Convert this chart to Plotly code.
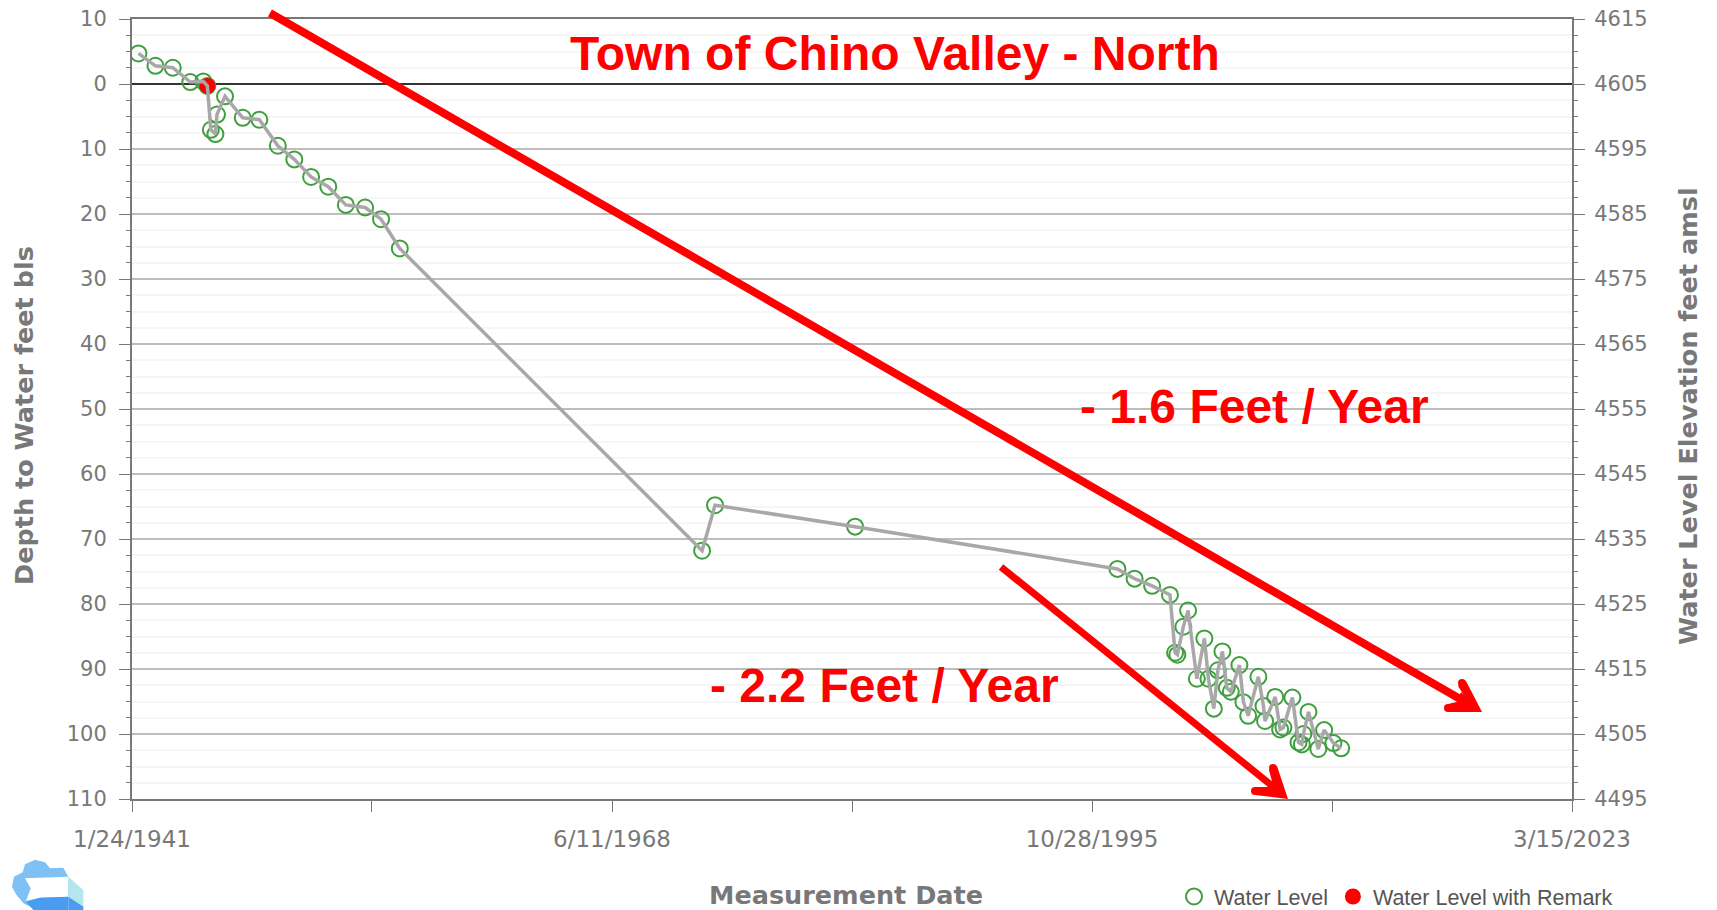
import pandas as pd
import plotly.graph_objects as go

W, H = 1717, 910
L, R, T, B = 132, 1572, 19, 799

years = [1941.43, 1942.40, 1943.39, 1944.39, 1945.13, 1945.36, 1945.56, 1945.82, 1945.91, 1946.37,
         1947.38, 1948.33, 1949.38, 1950.32, 1951.28, 1952.26, 1953.26, 1954.36, 1955.27, 1956.34,
         1973.58, 1974.32, 1982.31, 1997.27, 1998.25, 1999.25, 2000.27, 2000.56, 2000.69, 2001.03,
         2001.30, 2001.80, 2002.23, 2002.46, 2002.77, 2003.00, 2003.26, 2003.51, 2003.74, 2004.23,
         2004.46, 2004.73, 2005.31, 2005.60, 2005.69, 2006.27, 2006.55, 2006.74, 2007.25, 2007.60,
         2007.79, 2007.88, 2008.17, 2008.73, 2009.06, 2009.59, 2010.03]
depths = [-4.7, -2.8, -2.5, -0.3, -0.4, 0.3, 7.05, 7.7, 4.7, 1.9,
          5.2, 5.5, 9.5, 11.6, 14.3, 15.8, 18.6, 19.0, 20.8, 25.3,
          71.8, 64.8, 68.1, 74.6, 76.1, 77.2, 78.6, 87.5, 87.8, 83.5,
          81.0, 91.5, 85.3, 91.5, 96.1, 90.2, 87.3, 92.9, 93.5, 89.4,
          95.1, 97.2, 91.2, 95.7, 98.0, 94.3, 99.3, 99.0, 94.4, 101.3,
          101.6, 100.0, 96.6, 102.3, 99.4, 101.4, 102.2]
remark_years = [1945.36]
remark_depths = [0.3]
surface_elevation = 4605

x_tick_dates = ["1941-01-24", "1954-10-02", "1968-06-11", "1982-02-19", "1995-10-28", "2009-07-07", "2023-03-15"]
x_tick_labels = ["1/24/1941", "", "6/11/1968", "", "10/28/1995", "", "3/15/2023"]
y_ticks = [-10, 0, 10, 20, 30, 40, 50, 60, 70, 80, 90, 100, 110]
y_tick_labels = ["10", "0", "10", "20", "30", "40", "50", "60", "70", "80", "90", "100", "110"]
y2_ticks = [4615, 4605, 4595, 4585, 4575, 4565, 4555, 4545, 4535, 4525, 4515, 4505, 4495]


def to_date(y):
    yr = int(y)
    return pd.Timestamp(year=yr, month=1, day=1) + pd.Timedelta(days=(y - yr) * 365.25)


dates = [to_date(y) for y in years]
remark_dates = [to_date(y) for y in remark_years]

GREY = "#787878"
GREEN = "#3f9f3f"
RED = "#ff0000"

fig = go.Figure()
fig.add_trace(go.Scatter(x=dates, y=depths, mode="markers", name="Water Level",
                         marker=dict(symbol="circle-open", size=16, color=GREEN, line=dict(width=2, color=GREEN))))
fig.add_trace(go.Scatter(x=remark_dates, y=remark_depths, mode="markers", name="Water Level with Remark",
                         marker=dict(symbol="circle", size=16, color=RED)))
fig.add_trace(go.Scatter(x=dates, y=depths, mode="lines", showlegend=False,
                         line=dict(color="#a8a8a8", width=3.5)))
fig.add_trace(go.Scatter(x=dates, y=[surface_elevation - d for d in depths], yaxis="y2", mode="lines",
                         showlegend=False, hoverinfo="skip", line=dict(width=0), opacity=0))


def px(x):
    return (x - L) / (R - L)


def py(y):
    return (B - y) / (B - T)


def seg(x0, y0, x1, y1, width, color=RED):
    return dict(type="line", xref="paper", yref="paper", x0=px(x0), y0=py(y0), x1=px(x1), y1=py(y1),
                line=dict(color=color, width=width), layer="above")


def poly(points, color):
    d = "M " + " L ".join(f"{px(a):.5f},{py(b):.5f}" for a, b in points) + " Z"
    return dict(type="path", xref="paper", yref="paper", path=d, fillcolor=color,
                line=dict(width=0), layer="above")


def dot(x, y, r):
    return dict(type="circle", xref="paper", yref="paper", x0=px(x - r), x1=px(x + r), y0=py(y + r), y1=py(y - r),
                fillcolor=RED, line=dict(width=0), layer="above")


def zoom_logo(points):
    return [(a / 3, 845 + b / 3) for a, b in points]


shapes = [
    seg(270, 13, 1474, 707, 8),
    poly([(1458, 686), (1466, 681), (1482, 712), (1470, 705)], RED),
    poly([(1448, 704), (1448, 712), (1482, 712), (1465, 700)], RED),
    poly([(1482, 712), (1461, 692), (1456, 704)], RED),
    dot(1462, 683, 4), dot(1448, 708, 4),
    seg(1001, 567, 1281, 793, 7),
    poly([(1269, 770), (1277, 766), (1288, 799), (1274, 789)], RED),
    poly([(1255, 787), (1255, 795), (1288, 799), (1270, 787)], RED),
    poly([(1288, 799), (1274, 780), (1266, 790)], RED),
    dot(1273, 768, 4), dot(1255, 791, 4),
    poly(zoom_logo([(48, 148), (36, 125), (42, 95), (68, 82), (75, 58), (105, 44), (135, 52), (150, 70), (190, 68),
                    (205, 95), (210, 155), (100, 190), (70, 175)]), "#7fc1f5"),
    poly(zoom_logo([(75, 100), (205, 95), (205, 155), (120, 158), (78, 168), (92, 130)]), "#ffffff"),
    poly(zoom_logo([(78, 170), (120, 158), (205, 155), (205, 195), (100, 195)]), "#4a9cf0"),
    poly(zoom_logo([(205, 95), (250, 135), (250, 195), (205, 155)]), "#b5e6ec"),
    poly(zoom_logo([(205, 155), (250, 185), (250, 195), (205, 195)]), "#4a9cf0"),
]

annotations = [
    dict(text="<b>Town of Chino Valley - North</b>", x=px(895), y=py(54)),
    dict(text="<b>- 1.6 Feet / Year</b>", x=px(1254), y=py(406)),
    dict(text="<b>- 2.2 Feet / Year</b>", x=px(884), y=py(685)),
]
for a in annotations:
    a.update(xref="paper", yref="paper", showarrow=False, xanchor="center", yanchor="middle",
             font=dict(family="Liberation Sans", size=48, color=RED))

title_font = dict(family="DejaVu Sans", size=25.5, color=GREY)
for text, cx, cy, angle in [("Measurement Date", 846, 895, 0),
                            ("Depth to Water feet bls", 24, 416, -90),
                            ("Water Level Elevation feet amsl", 1688, 416, -90)]:
    annotations.append(dict(text=f"<b>{text}</b>", x=px(cx), y=py(cy), xref="paper", yref="paper",
                            showarrow=False, xanchor="center", yanchor="middle", textangle=angle,
                            font=title_font))

tick_font = dict(family="DejaVu Sans", size=21, color=GREY)

fig.update_layout(
    width=W, height=H, autosize=False,
    margin=dict(l=L, r=W - R, t=T, b=H - B, autoexpand=False),
    paper_bgcolor="white", plot_bgcolor="white",
    shapes=shapes, annotations=annotations,
    showlegend=True,
    legend=dict(orientation="h", x=px(1174), y=py(876), xanchor="left", yanchor="top",
                font=dict(family="Liberation Sans", size=21.5, color="#555555"),
                bgcolor="rgba(0,0,0,0)", itemwidth=30, tracegroupgap=0),
    xaxis=dict(type="date", range=["1941-01-24", "2023-03-15"], tickmode="array",
               tickvals=x_tick_dates, ticktext=x_tick_labels, ticks="outside", ticklen=11, tickwidth=1,
               tickcolor=GREY, tickfont=dict(family="DejaVu Sans", size=23, color=GREY), ticklabelstandoff=7,
               showgrid=False, showline=True, linecolor=GREY, linewidth=2, mirror=True, zeroline=False),
    yaxis=dict(range=[110, -10], tickmode="array", tickvals=y_ticks, ticktext=y_tick_labels,
               ticks="outside", ticklen=11, tickwidth=1, tickcolor=GREY, tickfont=tick_font,
               ticklabelstandoff=8,
               showgrid=True, gridcolor="#bdbdbd", gridwidth=2,
               zeroline=True, zerolinecolor="#333333", zerolinewidth=2,
               showline=True, linecolor=GREY, linewidth=2,
               minor=dict(tick0=0, dtick=2.5, ticks="outside", ticklen=4, tickcolor=GREY,
                          showgrid=True, gridcolor="#f6f6f6", gridwidth=2)),
    yaxis2=dict(range=[4495, 4615], overlaying="y", side="right", tickmode="array", tickvals=y2_ticks,
                ticks="outside", ticklen=11, tickwidth=1, tickcolor=GREY, tickfont=tick_font,
                ticklabelstandoff=5,
                showgrid=False, zeroline=False, showline=True, linecolor=GREY, linewidth=2,
                minor=dict(tick0=4495, dtick=2.5, ticks="outside", ticklen=4, tickcolor=GREY, showgrid=False)),
)

fig.write_html("out.html", post_script="document.body.style.margin='0';",
               config=dict(displayModeBar=False))
